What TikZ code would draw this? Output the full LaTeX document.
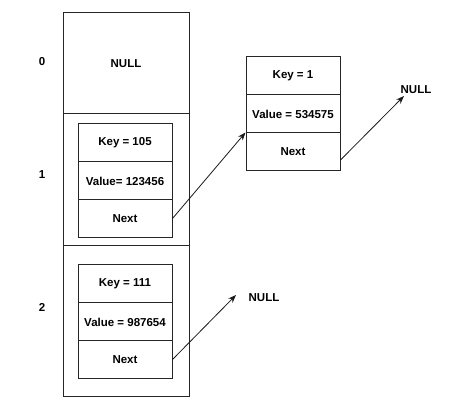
\documentclass[tikz,border=0pt]{standalone}
\usepackage{fontspec}
\setmainfont{Liberation Sans}
\usetikzlibrary{arrows.meta}
\begin{document}
\begin{tikzpicture}[x=1pt,y=-1pt,
  every node/.style={font=\fontsize{11.5}{13}\selectfont\bfseries},
  cell/.style={draw=black!85,line width=1pt,rectangle,inner sep=0pt,minimum width=94pt,minimum height=38pt},
  slot/.style={draw=black!85,line width=1pt,rectangle,inner sep=0pt,minimum width=126pt},
  lbl/.style={inner sep=1pt},
  ptr/.style={-{Stealth[length=8pt,width=6pt]},line width=0.8pt,black!90}]
\useasboundingbox (0,0) rectangle (474,411);
% bucket slots
\node[slot,minimum height=101pt] (s0) at (126,63.5) {NULL};
\node[slot,minimum height=132pt] (s1) at (126,180) {};
\node[slot,minimum height=151pt] (s2) at (126,321.5) {};
% indices
\node[lbl] (i0) at (42,62) {0};
\node[lbl] (i1) at (42,175) {1};
\node[lbl] (i2) at (42,307) {2};
% node in slot 1
\node[cell] (k1) at (125,143) {Key = 105};
\node[cell] (v1) at (125,181) {Value= 123456};
\node[cell] (n1) at (125,218.5) {Next};
% node in slot 2
\node[cell] (k2) at (125,284) {Key = 111};
\node[cell] (v2) at (125,322) {Value = 987654};
\node[cell] (n2) at (125,359.5) {Next};
% chained node
\node[cell] (k3) at (293,76) {Key = 1};
\node[cell] (v3) at (293,114) {Value = 534575};
\node[cell] (n3) at (293,152) {Next};
% NULL labels
\node[lbl] (null1) at (416,90) {NULL};
\node[lbl] (null2) at (264,298) {NULL};
\coordinate (t1) at (404,96);
\coordinate (t2) at (236,295);
% pointers
\draw[ptr] (n1.east) -- (n3.north west);
\draw[ptr] ([yshift=-8pt]n3.east) -- (t1);
\draw[ptr] (n2.east) -- (t2);
\end{tikzpicture}
\end{document}
